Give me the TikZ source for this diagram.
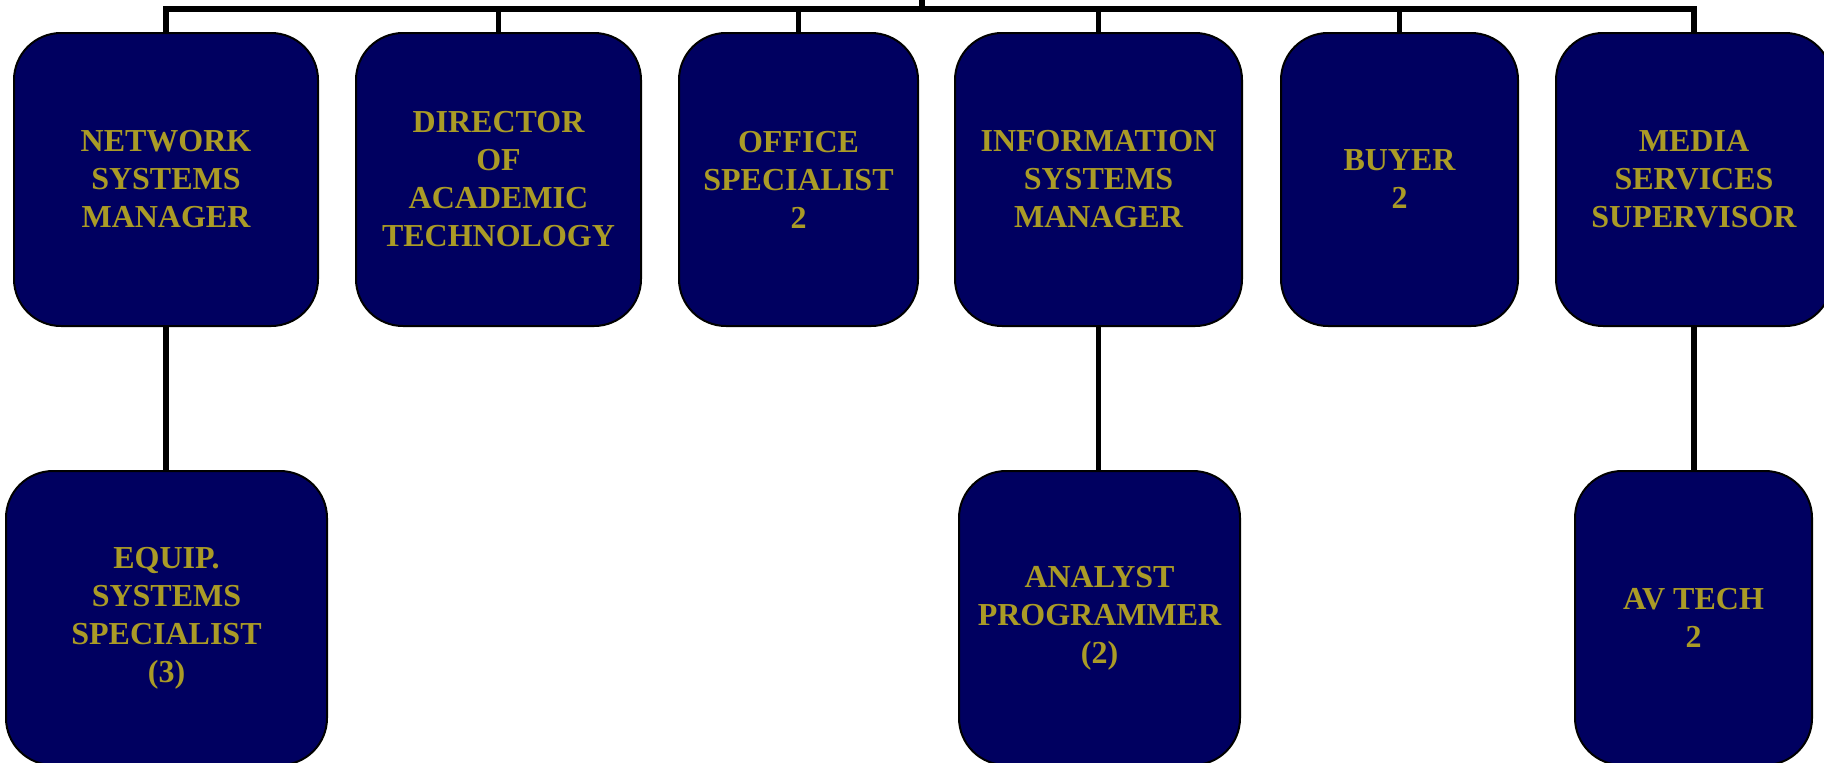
\documentclass[tikz,border=0pt]{standalone}
\usepackage{fontspec}
\setmainfont{Liberation Serif}
\definecolor{navy}{RGB}{0,0,96}
\definecolor{gold}{RGB}{170,155,38}
\tikzset{
  post/.style={draw=black, line width=1pt, fill=navy, rounded corners=23.5pt,
    text=gold, font=\fontsize{16}{19}\selectfont\bfseries, align=center,
    inner sep=0pt},
  wire/.style={draw=black, line width=2.6pt}
}
\begin{document}
\begin{tikzpicture}[x=0.5pt, y=-0.5pt]
\useasboundingbox (0,0) rectangle (1824,762);
\clip (0,0) rectangle (1824,762);
% top row
\node[post, minimum width=304*0.5pt, minimum height=293*0.5pt] (nsm) at (166,179.5) {NETWORK\\SYSTEMS\\MANAGER};
\node[post, minimum width=285*0.5pt, minimum height=293*0.5pt] (dat) at (498.5,179.5) {DIRECTOR\\OF\\ACADEMIC\\TECHNOLOGY};
\node[post, minimum width=239*0.5pt, minimum height=293*0.5pt] (os) at (798.5,179.5) {OFFICE\\SPECIALIST\\2};
\node[post, minimum width=287*0.5pt, minimum height=293*0.5pt] (ism) at (1098.5,179.5) {INFORMATION\\SYSTEMS\\MANAGER};
\node[post, minimum width=237*0.5pt, minimum height=293*0.5pt] (buy) at (1399.5,179.5) {BUYER\\2};
\node[post, minimum width=276*0.5pt, minimum height=293*0.5pt] (mss) at (1694,179.5) {MEDIA\\SERVICES\\SUPERVISOR};
% bottom row
\node[post, minimum width=321*0.5pt, minimum height=294*0.5pt] (ess) at (166.5,618) {EQUIP.\\SYSTEMS\\SPECIALIST\\(3)};
\node[post, minimum width=281*0.5pt, minimum height=294*0.5pt] (ap) at (1099.5,618) {ANALYST\\PROGRAMMER\\(2)};
\node[post, minimum width=237*0.5pt, minimum height=294*0.5pt] (avt) at (1693.5,618) {AV TECH\\2};
% bus
\coordinate (top) at (922,0);
\coordinate (bus) at (922,9);
\draw[wire] (top) -- (bus);
\draw[wire] (bus) -| (nsm.north);
\draw[wire] (bus) -| (dat.north);
\draw[wire] (bus) -| (os.north);
\draw[wire] (bus) -| (ism.north);
\draw[wire] (bus) -| (buy.north);
\draw[wire] (bus) -| (mss.north);
% children
\draw[wire] (nsm.south) -- (nsm.south |- ess.north);
\draw[wire] (ism.south) -- (ism.south |- ap.north);
\draw[wire] (mss.south) -- (mss.south |- avt.north);
\end{tikzpicture}
\end{document}
